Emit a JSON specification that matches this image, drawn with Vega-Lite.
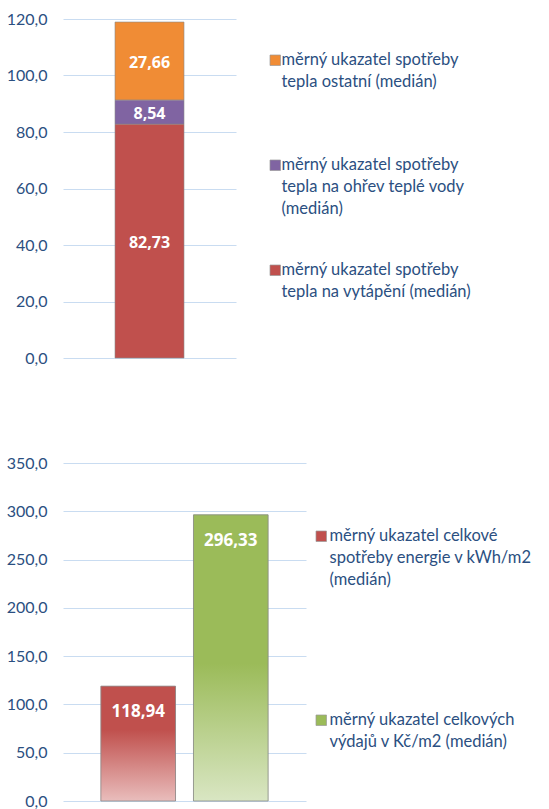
{
  "$schema": "https://vega.github.io/schema/vega-lite/v6.json",
  "background": "white",
  "padding": {"left": 6, "top": 11, "right": 0, "bottom": 0},
  "spacing": 89,
  "resolve": {"scale": {"color": "independent"}, "legend": {"color": "independent"}},
  "config": {
    "locale": {"number": {"decimal": ",", "thousands": " ", "grouping": [3], "currency": ["", " Kč"]}},
    "view": {"stroke": null},
    "font": "Lato",
    "axis": {"labelFont": "Lato", "labelFontSize": 16, "labelColor": "#2B4F81", "domain": false, "ticks": false, "labelPadding": 16, "gridColor": "#C9DCF1", "gridWidth": 1, "gridOpacity": 1},
    "legend": {"labelFont": "Lato", "labelFontSize": 16.5, "labelColor": "#2B4F81", "labelLimit": 400, "symbolType": "square", "symbolSize": 110, "symbolStrokeColor": "#9a9a9a", "symbolStrokeWidth": 0.7, "labelOffset": 0, "padding": 0, "labelBaseline": "middle"}
  },
  "datasets": {
    "teplo": [
      {"series": "měrný ukazatel spotřeby tepla ostatní (medián)", "value": 27.66, "poradi": 3},
      {"series": "měrný ukazatel spotřeby tepla na ohřev teplé vody (medián)", "value": 8.54, "poradi": 2},
      {"series": "měrný ukazatel spotřeby tepla na vytápění (medián)", "value": 82.73, "poradi": 1}
    ],
    "celkem": [
      {"series": "měrný ukazatel celkové spotřeby energie v kWh/m2 (medián)", "value": 118.94},
      {"series": "měrný ukazatel celkových výdajů v Kč/m2 (medián)", "value": 296.33}
    ]
  },
  "vconcat": [
    {
      "width": 173,
      "height": 339,
      "data": {"name": "teplo"},
      "encoding": {
        "x": {"datum": "a", "type": "nominal", "axis": null, "scale": {"paddingInner": 0, "paddingOuter": 0}},
        "y": {"field": "value", "type": "quantitative", "stack": "zero", "scale": {"domain": [0, 120], "nice": false}, "axis": {"values": [0, 20, 40, 60, 80, 100, 120], "format": ".1f", "title": null}},
        "order": {"field": "poradi", "type": "quantitative"}
      },
      "layer": [
        {
          "mark": {"type": "bar", "width": 69, "stroke": "#8a8a8a", "strokeWidth": 0.6},
          "encoding": {
            "color": {
              "field": "series", "type": "nominal",
              "scale": {
                "domain": ["měrný ukazatel spotřeby tepla ostatní (medián)", "měrný ukazatel spotřeby tepla na ohřev teplé vody (medián)", "měrný ukazatel spotřeby tepla na vytápění (medián)"],
                "range": ["#F08C35", "#8064A2", "#C0504D"]
              },
              "legend": {
                "title": null, "orient": "none", "legendX": 204, "legendY": 33, "rowPadding": 44, "labelOffset": -2,
                "encode": {"labels": {"update": {"lineHeight": {"value": 22}}}},
                "labelExpr": "datum.label == 'měrný ukazatel spotřeby tepla ostatní (medián)' ? ['měrný ukazatel spotřeby', 'tepla ostatní (medián)', ''] : datum.label == 'měrný ukazatel spotřeby tepla na ohřev teplé vody (medián)' ? ['měrný ukazatel spotřeby', 'tepla na ohřev teplé vody', '(medián)'] : ['měrný ukazatel spotřeby', 'tepla na vytápění (medián)', '']"
              }
            }
          }
        },
        {
          "mark": {"type": "text", "color": "white", "fontWeight": "bold", "fontSize": 16, "baseline": "middle", "font": "Open Sans", "dy": 2},
          "encoding": {
            "y": {"field": "value", "type": "quantitative", "stack": "zero", "bandPosition": 0.5},
            "text": {"field": "value", "type": "quantitative", "format": ".2f"}
          }
        }
      ]
    },
    {
      "width": 243,
      "height": 338,
      "data": {"name": "celkem"},
      "encoding": {
        "x": {"field": "series", "type": "nominal", "axis": null, "sort": null, "scale": {"paddingInner": 0.194, "paddingOuter": 0.409}},
        "y": {"field": "value", "type": "quantitative", "scale": {"domain": [0, 350], "nice": false}, "axis": {"values": [0, 50, 100, 150, 200, 250, 300, 350], "format": ".1f", "title": null}}
      },
      "layer": [
        {
          "mark": {"type": "bar"},
          "encoding": {
            "color": {
              "field": "series", "type": "nominal",
              "scale": {
                "domain": ["měrný ukazatel celkové spotřeby energie v kWh/m2 (medián)", "měrný ukazatel celkových výdajů v Kč/m2 (medián)"],
                "range": ["#C0504D", "#9BBB59"]
              },
              "legend": {
                "title": null, "orient": "none", "legendX": 250, "legendY": 65, "rowPadding": 123,
                "encode": {"labels": {"update": {"lineHeight": {"value": 22}}}},
                "labelExpr": "datum.label == 'měrný ukazatel celkové spotřeby energie v kWh/m2 (medián)' ? ['měrný ukazatel celkové', 'spotřeby energie v kWh/m2', '(medián)'] : ['měrný ukazatel celkových', 'výdajů v Kč/m2 (medián)']"
              }
            }
          }
        },
        {
          "mark": {"type": "bar", "stroke": "#8a8a8a", "strokeWidth": 0.8},
          "encoding": {
            "fill": {
              "condition": {
                "test": "datum.series == 'měrný ukazatel celkové spotřeby energie v kWh/m2 (medián)'",
                "value": {"gradient": "linear", "x1": 0, "y1": 0, "x2": 0, "y2": 1, "stops": [{"offset": 0, "color": "#C0504D"}, {"offset": 0.38, "color": "#C0504D"}, {"offset": 1, "color": "#E9BDBC"}]}
              },
              "value": {"gradient": "linear", "x1": 0, "y1": 0, "x2": 0, "y2": 1, "stops": [{"offset": 0, "color": "#9BBB59"}, {"offset": 0.52, "color": "#9BBB59"}, {"offset": 1, "color": "#D9E6C3"}]}
            }
          }
        },
        {
          "mark": {"type": "text", "color": "white", "fontWeight": "bold", "fontSize": 17, "baseline": "top", "dy": 18, "font": "Open Sans"},
          "encoding": {
            "text": {"field": "value", "type": "quantitative", "format": ".2f"}
          }
        }
      ]
    }
  ]
}
